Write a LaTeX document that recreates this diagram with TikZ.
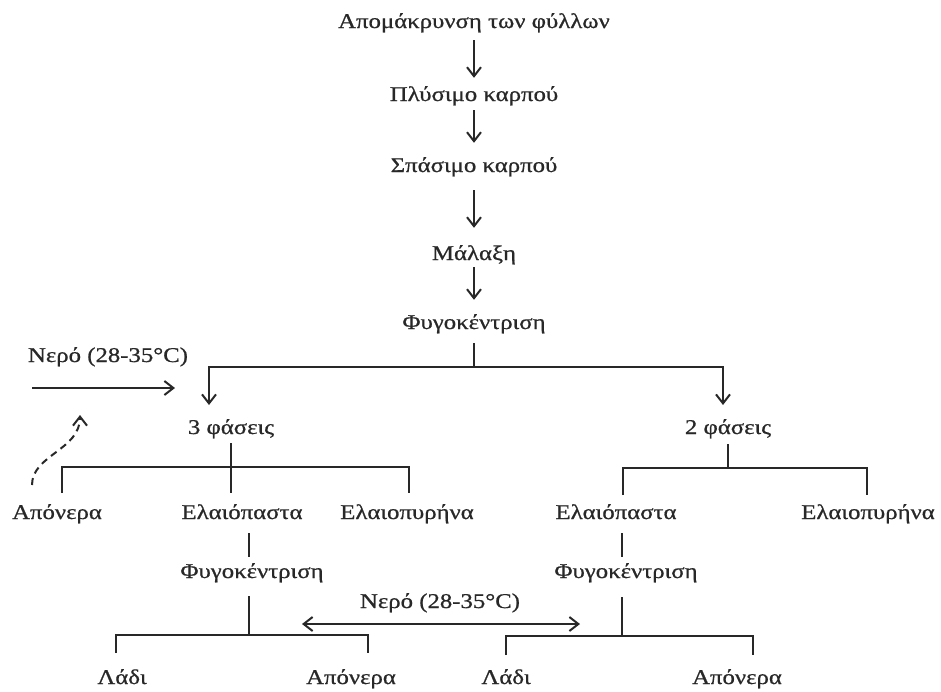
\documentclass[tikz,border=0pt]{standalone}
\usepackage{fontspec}
\setmainfont[FakeStretch=1.18,FakeBold=0.8]{Liberation Serif}
\usetikzlibrary{arrows.meta}
\definecolor{ink}{RGB}{40,40,40}
\begin{document}
\begin{tikzpicture}[x=1pt,y=-1pt,
  lab/.style={inner sep=0pt, text height=13pt, text depth=4pt, anchor=base,
              font=\fontsize{21}{25}\selectfont, text=ink},
  ln/.style={draw=ink, line width=2pt},
  tip/.tip={Straight Barb[length=9pt,width=14pt,line width=2pt]},
  arr/.style={ln, -tip},
  darr/.style={ln, tip-tip}]
\useasboundingbox (0,0) rectangle (941,691);

% main chain
\node[lab] (t1) at (474,28)  {Απομάκρυνση των φύλλων};
\node[lab] (t2) at (474,101) {Πλύσιμο καρπού};
\node[lab] (t3) at (474,172) {Σπάσιμο καρπού};
\node[lab] (t4) at (474,260) {Μάλαξη};
\node[lab] (t5) at (474,329) {Φυγοκέντριση};
\draw[arr, shorten <=8pt,  shorten >=10pt] (t1) -- (t2);
\draw[arr, shorten <=5pt,  shorten >=16pt] (t2) -- (t3);
\draw[arr, shorten <=14pt, shorten >=19pt] (t3) -- (t4);
\draw[arr, shorten <=3pt,  shorten >=16pt] (t4) -- (t5);

% split
\coordinate (j1) at (474,367);
\coordinate (aL) at (209,405);
\coordinate (aR) at (723,405);
\draw[ln, shorten <=10pt] (t5) -- (j1);
\draw[arr] (j1) -| (aL);
\draw[arr] (j1) -| (aR);

% water in (top left)
\node[lab] (w1) at (108,362) {Νερό (28-35°C)};
\coordinate (w1a) at (32,388);
\coordinate (w1b) at (175,388);
\draw[arr] (w1a) -- (w1b);
\coordinate (d1) at (32,485);
\coordinate (d2) at (80,415);
\draw[arr, dash pattern=on 7pt off 5pt] (d1) .. controls (32,455) and (80,450) .. (d2);

% 3 phases
\node[lab] (p3) at (231,434) {3 φάσεις};
\coordinate (k3) at (231,467);
\coordinate (k3a) at (62,493);
\coordinate (k3b) at (231,493);
\coordinate (k3c) at (409,493);
\draw[ln, shorten <=5pt] (p3) -- (k3);
\draw[ln] (k3a) |- (k3) -| (k3c);
\draw[ln] (k3) -- (k3b);
\node[lab] (a3) at (57,519)  {Απόνερα};
\node[lab] (e3) at (242,519) {Ελαιόπαστα};
\node[lab] (o3) at (407,519) {Ελαιοπυρήνα};

% 2 phases
\node[lab] (p2) at (728,434) {2 φάσεις};
\coordinate (k2) at (728,468);
\coordinate (k2a) at (623,495);
\coordinate (k2c) at (867,495);
\draw[ln, shorten <=6pt] (p2) -- (k2);
\draw[ln] (k2a) |- (k2) -| (k2c);
\node[lab] (e2) at (616,519) {Ελαιόπαστα};
\node[lab] (o2) at (868,519) {Ελαιοπυρήνα};

% second centrifugation, left
\node[lab] (f3) at (252,578) {Φυγοκέντριση};
\coordinate (s3a) at (249,533);
\coordinate (s3b) at (249,557);
\coordinate (s3c) at (249,596);
\coordinate (b3) at (249,635);
\coordinate (b3a) at (116,653);
\coordinate (b3c) at (368,653);
\draw[ln] (s3a) -- (s3b);
\draw[ln] (s3c) -- (b3);
\draw[ln] (b3a) |- (b3) -| (b3c);
\node[lab] (l3) at (122,684) {Λάδι};
\node[lab] (r3) at (351,684) {Απόνερα};

% second centrifugation, right
\node[lab] (f2) at (626,578) {Φυγοκέντριση};
\coordinate (s2a) at (622,533);
\coordinate (s2b) at (622,557);
\coordinate (s2c) at (622,597);
\coordinate (b2) at (622,636);
\coordinate (b2a) at (506,655);
\coordinate (b2c) at (753,655);
\draw[ln] (s2a) -- (s2b);
\draw[ln] (s2c) -- (b2);
\draw[ln] (b2a) |- (b2) -| (b2c);
\node[lab] (l2) at (506,684) {Λάδι};
\node[lab] (r2) at (737,684) {Απόνερα};

% water exchange
\node[lab] (w2) at (440,608) {Νερό (28-35°C)};
\coordinate (m1) at (302,624);
\coordinate (m2) at (580,624);
\draw[darr] (m1) -- (m2);
\end{tikzpicture}
\end{document}
